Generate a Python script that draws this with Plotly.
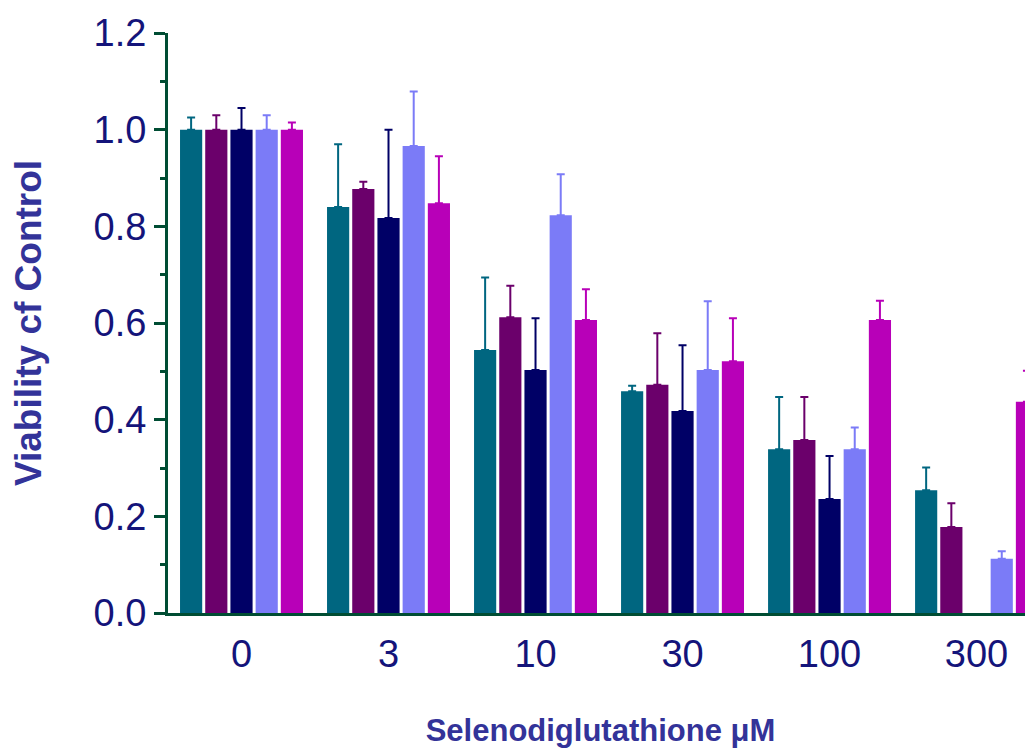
import plotly.graph_objects as go

categories = ["0", "3", "10", "30", "100", "300"]
series_names = ["Series 1", "Series 2", "Series 3", "Series 4", "Series 5"]
values = [
    [1.00, 0.84, 0.544, 0.459, 0.339, 0.254],
    [1.00, 0.877, 0.612, 0.472, 0.358, 0.178],
    [1.00, 0.817, 0.503, 0.418, 0.236, None],
    [1.00, 0.966, 0.823, 0.503, 0.339, 0.112],
    [1.00, 0.848, 0.606, 0.521, 0.606, 0.437],
]
errors = [
    [0.025, 0.13, 0.15, 0.011, 0.108, 0.047],
    [0.030, 0.015, 0.065, 0.107, 0.089, 0.049],
    [0.045, 0.183, 0.107, 0.136, 0.089, 0.0],
    [0.030, 0.113, 0.085, 0.142, 0.045, 0.016],
    [0.015, 0.097, 0.064, 0.089, 0.040, 0.064],
]
colors = ["#006680", "#6B006B", "#000066", "#7B7BF7", "#B800B8"]
y_ticks = [0.0, 0.2, 0.4, 0.6, 0.8, 1.0, 1.2]
y_ticklabels = ["0.0", "0.2", "0.4", "0.6", "0.8", "1.0", "1.2"]

axis_color = "#004D33"
title_color = "#333399"
tick_color = "#14147A"

fig = go.Figure()
for name, vals, errs, col in zip(series_names, values, errors, colors):
    fig.add_trace(go.Bar(
        x=categories, y=vals, name=name,
        marker=dict(color=col, line=dict(width=0)),
        error_y=dict(type="data", symmetric=False, array=errs,
                     arrayminus=[0] * len(errs), color=col,
                     thickness=2, width=4),
    ))

fig.update_layout(
    width=1025, height=741,
    margin=dict(l=160, r=0, t=25, b=136),
    paper_bgcolor="white", plot_bgcolor="white",
    showlegend=False,
    barmode="group", bargap=0.143, bargroupgap=0.12,
    font=dict(family="Liberation Sans, Arial, sans-serif"),
)
fig.update_xaxes(
    range=[-0.5, 5.384],
    showline=True, linecolor=axis_color, linewidth=3,
    ticks="", showgrid=False, zeroline=False,
    tickfont=dict(size=38, color=tick_color),
    ticklabelstandoff=5,
    title=dict(text="<b>Selenodiglutathione μM</b>",
               font=dict(size=31, color=title_color), standoff=46),
)
fig.update_yaxes(
    range=[0, 1.2],
    tickvals=y_ticks, ticktext=y_ticklabels,
    showline=True, linecolor=axis_color, linewidth=3,
    ticks="outside", ticklen=11, tickwidth=3, tickcolor=axis_color,
    minor=dict(dtick=0.1, tick0=0, ticks="outside", ticklen=5,
               tickwidth=3, tickcolor=axis_color),
    showgrid=False, zeroline=False,
    tickfont=dict(size=38, color=tick_color),
    ticklabelstandoff=0,
    title=dict(text="<b>Viability cf Control</b>",
               font=dict(size=37, color=title_color), standoff=42),
)

fig.write_html("out.html")
